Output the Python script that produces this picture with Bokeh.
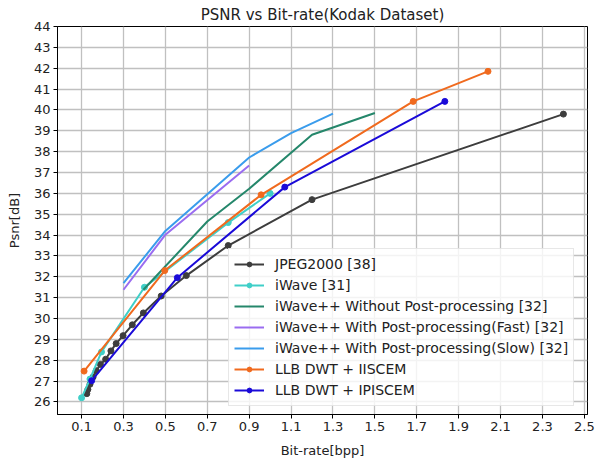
from bokeh.plotting import figure
from bokeh.models import Range1d, FixedTicker, Legend
from bokeh.embed import file_html
from bokeh.resources import INLINE

# ---- data ----
jpeg_x = [0.125, 0.13, 0.14, 0.155, 0.17, 0.19, 0.215, 0.24, 0.265, 0.298, 0.342, 0.395, 0.48, 0.6, 0.8, 1.2, 2.4]
jpeg_y = [26.4, 26.6, 26.85, 27.2, 27.5, 27.8, 28.05, 28.45, 28.8, 29.18, 29.7, 30.27, 31.08, 32.06, 33.5, 35.7, 39.8]

iwave_x = [0.1, 0.14, 0.195, 0.4, 0.8, 1.0]
iwave_y = [26.2, 27.1, 28.4, 31.5, 34.6, 36.0]

iwpp_x = [0.395, 0.7, 0.9, 1.2, 1.5]
iwpp_y = [31.38, 34.65, 36.22, 38.81, 39.85]

fast_x = [0.3, 0.5, 0.9]
fast_y = [31.38, 34.02, 37.34]

slow_x = [0.3, 0.5, 0.9, 1.1, 1.3]
slow_y = [31.7, 34.2, 37.72, 38.89, 39.82]

iiscem_x = [0.112, 0.497, 0.957, 1.683, 2.04]
iiscem_y = [27.48, 32.3, 35.93, 40.41, 41.85]

ipiscem_x = [0.148, 0.557, 1.07, 1.834]
ipiscem_y = [27.02, 31.96, 36.3, 40.41]

x_ticks = [0.1, 0.3, 0.5, 0.7, 0.9, 1.1, 1.3, 1.5, 1.7, 1.9, 2.1, 2.3, 2.5]
y_ticks = list(range(26, 45))

series = [
    ("JPEG2000 [38]", jpeg_x, jpeg_y, "#3d3d3d", True),
    ("iWave [31]", iwave_x, iwave_y, "#3fcfc8", True),
    ("iWave++ Without Post-processing [32]", iwpp_x, iwpp_y, "#25876b", False),
    ("iWave++ With Post-processing(Fast) [32]", fast_x, fast_y, "#9a6cf0", False),
    ("iWave++ With Post-processing(Slow) [32]", slow_x, slow_y, "#3a9cec", False),
    ("LLB DWT + IISCEM", iiscem_x, iiscem_y, "#f06a1e", True),
    ("LLB DWT + IPISCEM", ipiscem_x, ipiscem_y, "#1a0ad8", True),
]

FONT = "DejaVu Sans"

p = figure(frame_width=530, frame_height=388, output_backend="svg", toolbar_location=None,
           x_range=Range1d(-0.015, 2.515), y_range=Range1d(25.4, 44.0),
           min_border_left=57, min_border_right=8, min_border_top=10, min_border_bottom=40,
           title="PSNR vs Bit-rate(Kodak Dataset)")
p.title.align = "center"
p.title.text_font = FONT
p.title.text_font_size = "15px"
p.title.text_font_style = "normal"
p.title.text_color = "#222222"
p.title.standoff = 6

p.outline_line_color = "black"
p.outline_line_width = 1
p.outline_line_alpha = 1

for ax, ticks in ((p.xaxis[0], x_ticks), (p.yaxis[0], y_ticks)):
    ax.ticker = FixedTicker(ticks=ticks)
    ax.major_label_text_font = FONT
    ax.major_label_text_font_size = "13px"
    ax.major_label_text_color = "#222222"
    ax.axis_label_text_font = FONT
    ax.axis_label_text_font_size = "13px"
    ax.axis_label_text_font_style = "normal"
    ax.axis_label_text_color = "#222222"
    ax.axis_line_color = "black"
    ax.major_tick_line_color = "black"
    ax.major_tick_out = 4
    ax.major_tick_in = 0
    ax.minor_tick_line_color = None
    ax.major_label_standoff = 3

p.xaxis.axis_label = "Bit-rate[bpp]"
p.yaxis.axis_label = "Psnr[dB]"
p.xaxis.axis_label_standoff = 9
p.yaxis.axis_label_standoff = 9

p.grid.grid_line_color = "#c0c0c0"
p.grid.grid_line_width = 1.3
p.xgrid.ticker = FixedTicker(ticks=x_ticks)
p.ygrid.ticker = FixedTicker(ticks=y_ticks)

items = []
for label, xs, ys, color, markers in series:
    rs = [p.line(xs, ys, line_color=color, line_width=2)]
    if markers:
        rs.append(p.scatter(xs, ys, size=6, fill_color=color, line_color=color))
    items.append((label, rs))

legend = Legend(items=items, location=(171, 8))
legend.label_text_font = FONT
legend.label_text_font_size = "14px"
legend.label_text_color = "#222222"
legend.glyph_width = 30
legend.glyph_height = 12
legend.label_height = 20
legend.spacing = 1
legend.padding = 5
legend.margin = 0
legend.label_standoff = 11
legend.border_line_color = "#d0d0d0"
legend.border_line_width = 1
legend.background_fill_alpha = 0.8
p.add_layout(legend)

open("out.html", "w").write(file_html(p, INLINE))
